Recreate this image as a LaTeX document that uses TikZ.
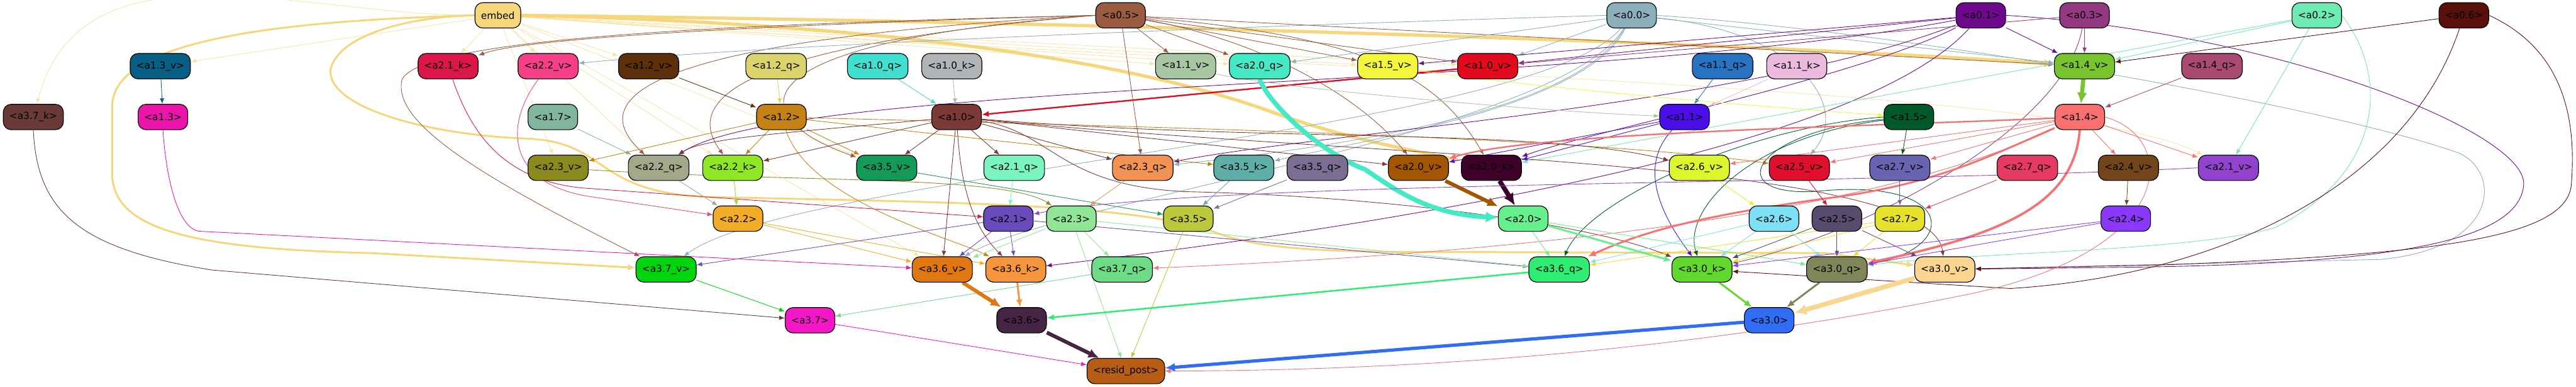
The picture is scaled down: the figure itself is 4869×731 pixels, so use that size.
\documentclass[tikz,border=0pt]{standalone}
\usepackage{fontspec}
\setmainfont{DejaVu Sans}
\usepackage{tikz}
\usetikzlibrary{arrows.meta}
\usetikzlibrary{positioning}
\pgfdeclarelayer{bg}
\pgfsetlayers{bg,main}

\definecolor{cembed}{HTML}{F5D67A}
\definecolor{ca05}{HTML}{9B5B40}
\definecolor{ca00}{HTML}{8BAFBB}
\definecolor{ca01}{HTML}{6E088C}
\definecolor{ca03}{HTML}{933982}
\definecolor{ca02}{HTML}{6EEAB5}
\definecolor{ca06}{HTML}{5A100A}
\definecolor{ca13v}{HTML}{085E83}
\definecolor{ca21k}{HTML}{DB174A}
\definecolor{ca22v}{HTML}{F53F87}
\definecolor{ca12v}{HTML}{5B300A}
\definecolor{ca12q}{HTML}{DBD36C}
\definecolor{ca10q}{HTML}{40DFD0}
\definecolor{ca10k}{HTML}{B1B4B6}
\definecolor{ca11v}{HTML}{A8C6A1}
\definecolor{ca20q}{HTML}{44EAC6}
\definecolor{ca15v}{HTML}{F3F63A}
\definecolor{ca10v}{HTML}{E30A1E}
\definecolor{ca11q}{HTML}{2872C2}
\definecolor{ca11k}{HTML}{EDBADF}
\definecolor{ca14v}{HTML}{78C42E}
\definecolor{ca14q}{HTML}{A84A72}
\definecolor{ca37k}{HTML}{6A3A38}
\definecolor{ca13}{HTML}{EA16AA}
\definecolor{ca17}{HTML}{80B59E}
\definecolor{ca12}{HTML}{C48214}
\definecolor{ca10}{HTML}{7B3A36}
\definecolor{ca11}{HTML}{4A0EE8}
\definecolor{ca15}{HTML}{02592A}
\definecolor{ca14}{HTML}{F87070}
\definecolor{ca23v}{HTML}{8A8A1E}
\definecolor{ca22q}{HTML}{A1A98A}
\definecolor{ca22k}{HTML}{8FE622}
\definecolor{ca35v}{HTML}{139A58}
\definecolor{ca21q}{HTML}{7AF5C0}
\definecolor{ca23q}{HTML}{F39353}
\definecolor{ca35k}{HTML}{5FAFA8}
\definecolor{ca35q}{HTML}{7A6E92}
\definecolor{ca20v}{HTML}{A35600}
\definecolor{ca20k}{HTML}{3E022A}
\definecolor{ca26v}{HTML}{DCF52D}
\definecolor{ca25v}{HTML}{E00F2E}
\definecolor{ca27v}{HTML}{6864B2}
\definecolor{ca27q}{HTML}{E53A62}
\definecolor{ca24v}{HTML}{70461A}
\definecolor{ca21v}{HTML}{9143CD}
\definecolor{ca22}{HTML}{F2AC27}
\definecolor{ca21}{HTML}{6A4BBC}
\definecolor{ca23}{HTML}{8EE696}
\definecolor{ca35}{HTML}{BDC93C}
\definecolor{ca20}{HTML}{66F08D}
\definecolor{ca26}{HTML}{7DE0F4}
\definecolor{ca25}{HTML}{574B6E}
\definecolor{ca27}{HTML}{E6E22C}
\definecolor{ca24}{HTML}{8A38FA}
\definecolor{ca37v}{HTML}{02D40E}
\definecolor{ca36v}{HTML}{DF7713}
\definecolor{ca36k}{HTML}{F5963F}
\definecolor{ca37q}{HTML}{6DDB88}
\definecolor{ca36q}{HTML}{2FEC72}
\definecolor{ca30k}{HTML}{62D82E}
\definecolor{ca30q}{HTML}{80865A}
\definecolor{ca30v}{HTML}{FAD58F}
\definecolor{ca37}{HTML}{F516C8}
\definecolor{ca36}{HTML}{452444}
\definecolor{ca30}{HTML}{2F6DF5}
\definecolor{cresid}{HTML}{B85E14}

\begin{document}
\begin{tikzpicture}[x=0.02cm, y=-0.02cm,
    >={Latex[length=5pt 1.6,width=3.8pt 1.6]},
    box/.style={draw=black, line width=0.8pt, fill=#1, rounded corners=0.3cm,
      minimum height=0.96cm, inner xsep=0.23cm, inner ysep=0pt,
      font=\fontsize{10.4}{12.5}\selectfont},
    ed/.style={->, draw=#1, line width=0.6pt},
    fe/.style={->, draw=#1!65!white, line width=0.6pt},
    md/.style={->, draw=#1, line width=2pt},
    tk/.style={->, draw=#1, line width=4.5pt}]
  \useasboundingbox (0,0) rectangle (4869,731);

  % layer 0
  \node[box=cembed] (embed) at (941,29)  {embed};
  \node[box=ca05]   (a05)   at (2118,29) {<a0.5>};
  \node[box=ca00]   (a00)   at (3084,29) {<a0.0>};
  \node[box=ca01]   (a01)   at (3744,29) {<a0.1>};
  \node[box=ca03]   (a03)   at (3940,29) {<a0.3>};
  \node[box=ca02]   (a02)   at (4379,29) {<a0.2>};
  \node[box=ca06]   (a06)   at (4657,29) {<a0.6>};

  % layer 1 inputs
  \node[box=ca13v] (a13v) at (303,125)  {<a1.3\_v>};
  \node[box=ca21k] (a21k) at (847,125)  {<a2.1\_k>};
  \node[box=ca22v] (a22v) at (1036,125) {<a2.2\_v>};
  \node[box=ca12v] (a12v) at (1226,125) {<a1.2\_v>};
  \node[box=ca12q] (a12q) at (1467,125) {<a1.2\_q>};
  \node[box=ca10q] (a10q) at (1659,125) {<a1.0\_q>};
  \node[box=ca10k] (a10k) at (1799,125) {<a1.0\_k>};
  \node[box=ca11v] (a11v) at (2241,125) {<a1.1\_v>};
  \node[box=ca20q] (a20q) at (2381,125) {<a2.0\_q>};
  \node[box=ca15v] (a15v) at (2623,125) {<a1.5\_v>};
  \node[box=ca10v] (a10v) at (2812,125) {<a1.0\_v>};
  \node[box=ca11q] (a11q) at (3256,125) {<a1.1\_q>};
  \node[box=ca11k] (a11k) at (3396,125) {<a1.1\_k>};
  \node[box=ca14v] (a14v) at (3940,125) {<a1.4\_v>};
  \node[box=ca14q] (a14q) at (4181,125) {<a1.4\_q>};

  % layer 1 heads
  \node[box=ca37k] (a37k) at (63,221)   {<a3.7\_k>};
  \node[box=ca13]  (a13)  at (308,221)  {<a1.3>};
  \node[box=ca17]  (a17)  at (1045,221) {<a1.7>};
  \node[box=ca12]  (a12)  at (1477,221) {<a1.2>};
  \node[box=ca10]  (a10)  at (1808,221) {<a1.0>};
  \node[box=ca11]  (a11)  at (3184,221) {<a1.1>};
  \node[box=ca15]  (a15)  at (3608,221) {<a1.5>};
  \node[box=ca14]  (a14)  at (3931,221) {<a1.4>};

  % layer 2 inputs
  \node[box=ca23v] (a23v) at (1055,317) {<a2.3\_v>};
  \node[box=ca22q] (a22q) at (1245,317) {<a2.2\_q>};
  \node[box=ca22k] (a22k) at (1385,317) {<a2.2\_k>};
  \node[box=ca35v] (a35v) at (1676,317) {<a3.5\_v>};
  \node[box=ca21q] (a21q) at (1917,317) {<a2.1\_q>};
  \node[box=ca23q] (a23q) at (2160,317) {<a2.3\_q>};
  \node[box=ca35k] (a35k) at (2351,317) {<a3.5\_k>};
  \node[box=ca35q] (a35q) at (2490,317) {<a3.5\_q>};
  \node[box=ca20v] (a20v) at (2681,317) {<a2.0\_v>};
  \node[box=ca20k] (a20k) at (2819,317) {<a2.0\_k>};
  \node[box=ca26v] (a26v) at (3212,317) {<a2.6\_v>};
  \node[box=ca25v] (a25v) at (3401,317) {<a2.5\_v>};
  \node[box=ca27v] (a27v) at (3591,317) {<a2.7\_v>};
  \node[box=ca27q] (a27q) at (3832,317) {<a2.7\_q>};
  \node[box=ca24v] (a24v) at (4023,317) {<a2.4\_v>};
  \node[box=ca21v] (a21v) at (4212,317) {<a2.1\_v>};

  % layer 2 heads
  \node[box=ca22] (a22) at (1395,413) {<a2.2>};
  \node[box=ca21] (a21) at (1906,413) {<a2.1>};
  \node[box=ca23] (a23) at (2025,413) {<a2.3>};
  \node[box=ca35] (a35) at (2246,413) {<a3.5>};
  \node[box=ca20] (a20) at (2879,413) {<a2.0>};
  \node[box=ca26] (a26) at (3353,413) {<a2.6>};
  \node[box=ca25] (a25) at (3472,413) {<a2.5>};
  \node[box=ca27] (a27) at (3591,413) {<a2.7>};
  \node[box=ca24] (a24) at (4018,413) {<a2.4>};

  % layer 3 inputs
  \node[box=ca37v] (a37v) at (1259,509) {<a3.7\_v>};
  \node[box=ca36v] (a36v) at (1781,509) {<a3.6\_v>};
  \node[box=ca36k] (a36k) at (1920,509) {<a3.6\_k>};
  \node[box=ca37q] (a37q) at (2121,509) {<a3.7\_q>};
  \node[box=ca36q] (a36q) at (2947,509) {<a3.6\_q>};
  \node[box=ca30k] (a30k) at (3217,509) {<a3.0\_k>};
  \node[box=ca30q] (a30q) at (3472,509) {<a3.0\_q>};
  \node[box=ca30v] (a30v) at (3676,509) {<a3.0\_v>};

  % layer 3 heads and output
  \node[box=ca37]   (a37)   at (1531,605) {<a3.7>};
  \node[box=ca36]   (a36)   at (1931,605) {<a3.6>};
  \node[box=ca30]   (a30)   at (3344,605) {<a3.0>};
  \node[box=cresid] (resid) at (2128,701) {<resid\_post>};

  \begin{pgfonlayer}{bg}
  % from embed
  \path (embed)
    edge[fe=cembed] (a13v)
    edge[fe=cembed] (a21k)
    edge[fe=cembed] (a22v)
    edge[fe=cembed] (a12v)
    edge[fe=cembed] (a11v)
    edge[fe=cembed] (a20q)
    edge[fe=cembed] (a15v)
    edge[fe=cembed] (a10v)
    edge[fe=cembed, out=180, in=75] (a37k)
    edge[fe=cembed] (a23v)
    edge[fe=cembed] (a22q)
    edge[fe=cembed] (a22k)
    edge[fe=cembed] (a35v)
    edge[fe=cembed] (a36v);
  \draw[fe=cembed] (embed) .. controls (2500,140) and (3900,160) .. (a21v);
  \draw[tk=cembed, line width=3.5pt] (embed.east) .. controls (2000,40) and (3300,80) .. (a14v);
  \draw[tk=cembed, line width=3.5pt] (embed.east) .. controls (1700,45) and (2150,120) .. (2400,210)
    .. controls (2550,265) and (2680,285) .. (a20k);
  \draw[md=cembed] (embed.west) .. controls (760,32) and (640,70) .. (625,130)
    .. controls (615,200) and (800,255) .. (1000,262) .. controls (1150,270) and (1120,360) .. (1330,372)
    .. controls (1800,382) and (2150,385) .. (2300,440) .. controls (2380,470) and (2500,476) .. (2700,476)
    -- (3450,478) -- (a30v);
  \draw[md=cembed] (embed.west) .. controls (500,40) and (215,80) .. (212,200) -- (212,330)
    .. controls (215,430) and (350,470) .. (700,478) -- (a37v);

  % from a0.5
  \path (a05)
    edge[ed=ca05] (a11v)
    edge[ed=ca05] (a20q)
    edge[ed=ca05] (a15v)
    edge[ed=ca05] (a10v)
    edge[ed=ca05] (a14v)
    edge[ed=ca05] (a23q);
  \draw[ed=ca05] (a05.west) .. controls (1500,45) and (1000,70) .. (a21k);
  \draw[ed=ca05] (a05.west) .. controls (1150,80) and (1120,200) .. (a22q);
  \draw[ed=ca05] (a05.west) .. controls (1350,90) and (1300,200) .. (a22k);
  \draw[ed=ca05] (a05.west) .. controls (1380,80) and (1400,220) .. (a35v);
  \draw[ed=ca05] (a05) .. controls (2350,70) and (2550,160) .. (a20v);
  \draw[ed=ca05] (a05) .. controls (2600,70) and (2720,150) .. (a20k);
  \draw[ed=ca05] (a05.west) .. controls (1400,45) and (800,70) .. (760,150)
    .. controls (740,230) and (900,330) .. (a37v);

  % from a0.0
  \path (a00)
    edge[ed=ca00] (a20q)
    edge[ed=ca00] (a10v)
    edge[ed=ca00] (a14v);
  \draw[ed=ca00] (a00.west) .. controls (2500,45) and (1500,80) .. (a22v);
  \draw[ed=ca00] (a00) .. controls (3000,180) and (2700,260) .. (a23q);
  \draw[ed=ca00] (a00) .. controls (3000,200) and (2600,260) .. (a35k);
  \draw[ed=ca00] (a00) .. controls (3400,60) and (3500,200) .. (a25v);
  \draw[ed=ca00] (a00) .. controls (2900,250) and (1500,330) .. (a37v);
  \draw[ed=ca00] (a00) .. controls (2950,250) and (2000,380) .. (a36v);
  \draw[ed=ca00] (a00.east) .. controls (3600,60) and (4400,200) .. (4650,290)
    .. controls (4730,330) and (4720,470) .. (4500,490) -- (a30v);

  % from a0.1
  \path (a01)
    edge[ed=ca01] (a15v)
    edge[ed=ca01] (a10v)
    edge[ed=ca01] (a14v);
  \draw[ed=ca01] (a01) .. controls (3000,170) and (1500,150) .. (a22q);
  \draw[ed=ca01] (a01) .. controls (3300,200) and (2500,250) .. (a23q);
  \draw[ed=ca01] (a01) .. controls (3500,150) and (3000,250) .. (a20k);
  \draw[ed=ca01] (a01) .. controls (3500,300) and (2500,440) .. (a36k);
  \draw[ed=ca01] (a01.east) .. controls (4300,60) and (4780,250) .. (4770,350)
    .. controls (4760,460) and (4500,500) .. (4000,505) -- (a30v);

  % from a0.3, a0.2, a0.6
  \path (a03)
    edge[ed=ca03] (a14v)
    edge[ed=ca03] (a10v);
  \draw[ed=ca03] (a03) .. controls (3900,250) and (3500,450) .. (a30k);
  \path (a02)
    edge[ed=ca02] (a14v)
    edge[ed=ca02] (a21v)
    edge[ed=ca02] (a20k);
  \draw[ed=ca02] (a02.east) .. controls (4520,150) and (4500,330) .. (4300,430)
    .. controls (4150,475) and (3700,478) .. (a30q);
  \path (a06) edge[ed=ca06] (a14v);
  \draw[ed=ca06] (a06.east) .. controls (4860,100) and (4868,250) .. (4860,350)
    .. controls (4850,450) and (4600,480) .. (4100,500) -- (a30v);
  \draw[ed=ca06] (a06) .. controls (4550,350) and (4200,520) .. (3800,545) -- (a30k);

  % layer 1 inputs to heads
  \path (a13v) edge[ed=ca13v] (a13);
  \path (a12v) edge[ed=ca12v] (a12);
  \path (a12q) edge[ed=ca12q] (a12);
  \path (a10q) edge[ed=ca10q] (a10);
  \path (a10k) edge[ed=ca10k] (a10);
  \path (a10v) edge[md=ca10v, line width=1.6pt] (a10);
  \path (a11q) edge[ed=ca11q] (a11);
  \path (a11k) edge[ed=ca11k] (a11);
  \draw[ed=ca11v] (a11v) .. controls (2400,165) and (2900,210) .. (a11);
  \draw[ed=ca15v] (a15v) .. controls (2900,165) and (3300,200) .. (a15);
  \path (a14v) edge[tk=ca14v] (a14);
  \path (a14q) edge[ed=ca14q] (a14);
  \draw[ed=ca21k] (a21k) .. controls (890,250) and (950,340) .. (1100,355) -- (a21);
  \draw[ed=ca22v] (a22v) .. controls (950,240) and (960,350) .. (1120,372) -- (a22);

  % from layer 1 heads
  \draw[ed=ca37k] (a37k.south) .. controls (70,400) and (150,470) .. (400,510) -- (a37);
  \draw[ed=ca13] (a13.south) .. controls (315,350) and (340,437) .. (380,437) -- (a36v);
  \path (a17) edge[ed=ca17] (a22q);
  \path (a12)
    edge[ed=ca12] (a23v)
    edge[ed=ca12] (a22k)
    edge[ed=ca12] (a35v)
    edge[ed=ca12] (a35k);
  \draw[ed=ca12] (a12) .. controls (2200,240) and (3000,260) .. (a25v);
  \draw[ed=ca12] (a12) .. controls (1530,380) and (1800,450) .. (a36k);
  \path (a10)
    edge[ed=ca10] (a35v)
    edge[ed=ca10] (a21q)
    edge[ed=ca10] (a23q)
    edge[ed=ca10] (a22k)
    edge[ed=ca10] (a20v)
    edge[ed=ca10] (a36v);
  \draw[ed=ca10] (a10) .. controls (1500,250) and (1330,260) .. (a22q);
  \draw[ed=ca10] (a10) .. controls (2400,270) and (2900,240) .. (a26v);
  \draw[ed=ca10] (a10) .. controls (1815,330) and (1830,420) .. (a36k);
  \draw[ed=ca10] (a10) .. controls (1990,250) and (2000,350) .. (2240,362)
    .. controls (2600,370) and (3000,420) .. (a30k);
  \draw[ed=ca10] (a10) .. controls (2600,300) and (3650,300) .. (a30v);
  \path (a11)
    edge[ed=ca11] (a20v)
    edge[ed=ca11] (a20k);
  \draw[ed=ca11] (a11) .. controls (3090,320) and (3150,420) .. (a30k);
  \path (a15) edge[ed=ca15] (a27v);
  \draw[ed=ca15] (a15.west) .. controls (3300,240) and (3000,380) .. (a36q);
  \draw[ed=ca15] (a15) .. controls (3300,260) and (3180,400) .. (a30k);
  \draw[ed=ca15] (a15) .. controls (3300,250) and (3250,380) .. (3450,360)
    .. controls (3700,340) and (3700,470) .. (a30q);
  \path (a14)
    edge[ed=ca14] (a26v)
    edge[ed=ca14] (a25v)
    edge[ed=ca14] (a27v)
    edge[ed=ca14] (a24v)
    edge[ed=ca14] (a21v);
  \draw[md=ca14, line width=1.6pt] (a14) .. controls (3500,240) and (2900,250) .. (a20v);
  \draw[md=ca14] (a14) .. controls (3750,300) and (3650,350) .. (3450,375)
    .. controls (3200,410) and (3100,440) .. (a36q);
  \draw[md=ca14, line width=2.5pt] (a14.south) .. controls (3920,380) and (3800,440) .. (a30q);
  \draw[ed=ca14] (a14) .. controls (3500,420) and (2800,480) .. (a37q);
  \draw[ed=ca14] (a14.east) .. controls (4120,260) and (4120,480) .. (3700,560)
    .. controls (3200,660) and (2700,700) .. (resid);

  % layer 2 inputs to heads
  \draw[ed=ca23v] (a23v) .. controls (1500,345) and (1900,330) .. (a23);
  \path (a22q) edge[ed=ca22q] (a22);
  \path (a22k) edge[ed=ca22k] (a22);
  \path (a35v) edge[ed=ca35v] (a35);
  \path (a21q) edge[ed=ca21q] (a21);
  \path (a23q) edge[ed=ca23q] (a23);
  \path (a35k) edge[ed=ca35k] (a35);
  \path (a35q) edge[ed=ca35q] (a35);
  \draw[tk=ca20q, line width=5pt] (a20q.south) .. controls (2400,200) and (2500,290) .. (2580,320)
    .. controls (2640,360) and (2700,405) .. (a20);
  \path (a20v) edge[tk=ca20v, line width=4pt] (a20);
  \path (a20k) edge[tk=ca20k, line width=5pt] (a20);
  \path (a26v) edge[ed=ca26v] (a26);
  \path (a25v) edge[ed=ca25v] (a25);
  \path (a27v) edge[ed=ca27v] (a27);
  \path (a27q) edge[ed=ca27q] (a27);
  \path (a24v) edge[ed=ca24v] (a24);
  \draw[ed=ca21v] (a21v.west) .. controls (3500,350) and (2300,340) .. (a21);

  % from layer 2 heads
  \path (a22)
    edge[ed=ca22] (a36v)
    edge[ed=ca22] (a36k);
  \path (a21)
    edge[ed=ca21] (a36v)
    edge[ed=ca21] (a36k)
    edge[ed=ca21] (a37v)
    edge[ed=ca21] (a36q);
  \path (a23)
    edge[ed=ca23] (a36v)
    edge[ed=ca23] (a37q)
    edge[ed=ca23] (a36q)
    edge[ed=ca23] (resid);
  \path (a35) edge[ed=ca35] (resid);
  \path (a20)
    edge[md=ca20] (a30k)
    edge[ed=ca20] (a36q)
    edge[ed=ca20] (a30q);
  \path (a26)
    edge[ed=ca26] (a36q)
    edge[ed=ca26] (a30k)
    edge[ed=ca26] (a30q);
  \path (a25)
    edge[ed=ca25] (a30k)
    edge[ed=ca25] (a30q)
    edge[ed=ca25] (a30v);
  \path (a27)
    edge[ed=ca27] (a36q)
    edge[ed=ca27] (a30k)
    edge[ed=ca27] (a30q);
  \path (a24)
    edge[ed=ca24] (a30k)
    edge[ed=ca24] (a30q);

  % layer 3
  \path (a37v) edge[ed=ca37v] (a37);
  \path (a37q) edge[ed=ca37q] (a37);
  \path (a36v) edge[tk=ca36v, line width=4pt] (a36);
  \path (a36k) edge[md=ca36k] (a36);
  \path (a36q) edge[md=ca36q, line width=1.7pt] (a36);
  \path (a30k) edge[md=ca30k] (a30);
  \path (a30q) edge[md=ca30q] (a30);
  \path (a30v) edge[tk=ca30v, line width=5pt] (a30);
  \path (a37) edge[ed=ca37] (resid);
  \path (a36) edge[tk=ca36, line width=4pt] (resid);
  \path (a30) edge[tk=ca30, line width=3.5pt] (resid);
  \end{pgfonlayer}
\end{tikzpicture}
\end{document}
